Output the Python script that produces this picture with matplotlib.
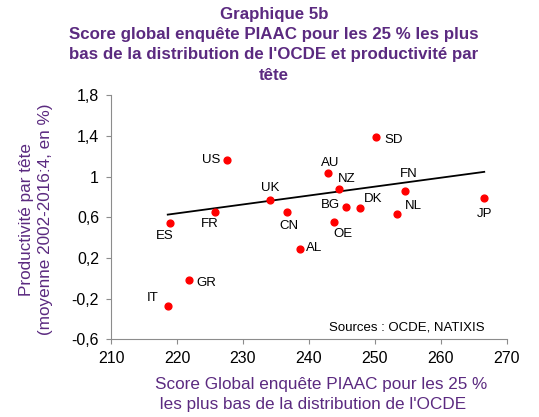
import matplotlib
matplotlib.use("Agg")
import matplotlib.pyplot as plt

plt.rcParams['font.family'] = ['Liberation Sans', 'DejaVu Sans']

# Data
countries = ['SD', 'US', 'AU', 'NZ', 'FN', 'UK', 'JP', 'BG', 'DK',
             'FR', 'CN', 'NL', 'ES', 'OE', 'AL', 'GR', 'IT']
score = [250.2, 227.6, 242.9, 244.6, 254.6, 234.1, 266.5, 245.7, 247.7,
         225.8, 236.7, 253.4, 218.9, 243.8, 238.6, 221.9, 218.6]
productivity = [1.39, 1.16, 1.03, 0.875, 0.86, 0.765, 0.79, 0.70, 0.69,
                0.65, 0.65, 0.635, 0.545, 0.555, 0.285, -0.015, -0.27]
# trend line as drawn in the source (end points)
trend_x = [218.6, 266.6]
trend_y = [0.626, 1.046]
yticks = [-0.6, -0.2, 0.2, 0.6, 1.0, 1.4, 1.8]
xticks = [210, 220, 230, 240, 250, 260, 270]

# label placement (offset in pixels, horizontal alignment)
label_pos = {
    'SD': (8, -3, 'left'), 'US': (-7, 0, 'right'), 'AU': (2, 10, 'center'),
    'NZ': (8, 10, 'center'), 'FN': (4, 17, 'center'), 'UK': (0, 12, 'center'),
    'JP': (1, -16, 'center'), 'BG': (-6, 2, 'right'), 'DK': (14, 9, 'center'),
    'FR': (-5, -12, 'center'), 'CN': (2, -14, 'center'), 'NL': (8, 8, 'left'),
    'ES': (-5, -13, 'center'), 'OE': (9, -12, 'center'), 'AL': (6, 1, 'left'),
    'GR': (7, -3, 'left'), 'IT': (-9, 8, 'right'),
}

purple = '#5b2a80'
grey = '#8c8c8c'

fig = plt.figure(figsize=(5.39, 4.17), dpi=100)
ax = fig.add_axes([0.206, 0.186, 0.734, 0.586])

ax.scatter(score, productivity, s=24, color='#ff0000', zorder=3)
ax.plot(trend_x, trend_y, color='black', linewidth=1.3, zorder=2)

for c, x, y in zip(countries, score, productivity):
    dx, dy, ha = label_pos[c]
    ax.annotate(c, (x, y), xytext=(dx, dy), textcoords='offset pixels',
                ha=ha, va='center', fontsize=9.5)

ax.set_xlim(210, 270)
ax.set_ylim(-0.6, 1.8)
ax.set_xticks(xticks)
ax.set_yticks(yticks)
ax.set_yticklabels([('%g' % v).replace('.', ',') for v in yticks])
ax.tick_params(direction='out', length=3.6, color=grey, labelsize=11.5, pad=5)
for s in ['top', 'right']:
    ax.spines[s].set_visible(False)
for s in ['left', 'bottom']:
    ax.spines[s].set_color(grey)

ax.text(0.945, 0.05, 'Sources : OCDE, NATIXIS', transform=ax.transAxes,
        ha='right', va='center', fontsize=9.5)

ax.set_xlabel("Score Global enquête PIAAC pour les 25 %\n les plus bas de la distribution de l'OCDE",
              color=purple, fontsize=12.3, linespacing=1.42, multialignment='left')
ax.xaxis.set_label_coords(0.532, -0.152)
ax.xaxis.label.set_va('top')
ax.set_ylabel("Productivité par tête\n(moyenne 2002-2016:4, en %)",
              color=purple, fontsize=12.3, linespacing=1.3)
ax.yaxis.set_label_coords(-0.147, 0.49)

fig.text(0.508, 0.984, "Graphique 5b\nScore global enquête PIAAC pour les 25 % les plus\n"
         "bas de la distribution de l'OCDE et productivité par\ntête",
         ha='center', va='top', color=purple, fontsize=12.2, fontweight='bold',
         linespacing=1.45)

fig.savefig('out.png', dpi=100)
